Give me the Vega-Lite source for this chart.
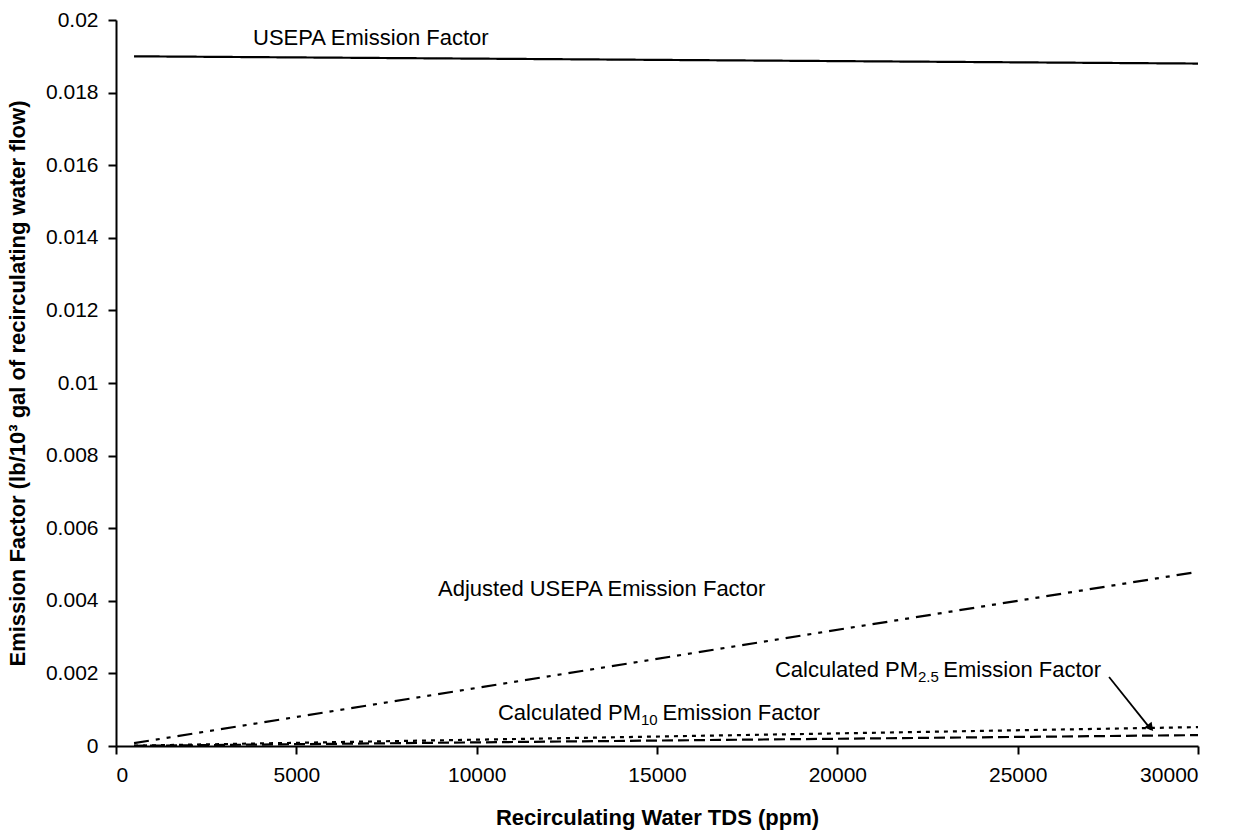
{
  "$schema": "https://vega.github.io/schema/vega-lite/v6.json",
  "width": 1082,
  "height": 726,
  "autosize": {"type": "none"},
  "padding": {"left": 116, "top": 20, "right": 40, "bottom": 86},
  "background": "white",
  "config": {
    "font": "Liberation Sans",
    "view": {"stroke": null},
    "axis": {"grid": false, "domainColor": "black", "tickColor": "black", "labelColor": "black", "titleColor": "black", "domainWidth": 2, "tickWidth": 2, "tickSize": 8, "labelFont": "Liberation Sans", "titleFont": "Liberation Sans", "labelFontSize": 21, "titleFontSize": 22, "titleFontWeight": "bold"}
  },
  "datasets": {
    "lines": [
      {"series": "USEPA", "tds": 500, "ef": 0.019},
      {"series": "USEPA", "tds": 30000, "ef": 0.0188},
      {"series": "Adjusted", "tds": 500, "ef": 0.00008},
      {"series": "Adjusted", "tds": 30000, "ef": 0.0048},
      {"series": "PM10", "tds": 500, "ef": 0.00001},
      {"series": "PM10", "tds": 30000, "ef": 0.00052},
      {"series": "PM2.5", "tds": 500, "ef": 0.000005},
      {"series": "PM2.5", "tds": 30000, "ef": 0.0003}
    ]
  },
  "layer": [
    {
      "data": {"name": "lines"},
      "mark": {"type": "line", "strokeWidth": 2.2, "color": "black"},
      "encoding": {
        "x": {"field": "tds", "type": "quantitative", "scale": {"domain": [0, 30000], "nice": false}, "axis": {"title": "Recirculating Water TDS (ppm)", "values": [0, 5000, 10000, 15000, 20000, 25000, 30000], "format": "d", "labelPadding": 10, "titlePadding": 22}},
        "y": {"field": "ef", "type": "quantitative", "scale": {"domain": [0, 0.02], "nice": false}, "axis": {"title": "Emission Factor (lb/10³ gal of recirculating water flow)", "values": [0, 0.002, 0.004, 0.006, 0.008, 0.01, 0.012, 0.014, 0.016, 0.018, 0.02], "format": "~g", "labelPadding": 10, "titlePadding": 16}},
        "detail": {"field": "series", "type": "nominal"},
        "strokeDash": {"field": "series", "type": "nominal", "scale": {"domain": ["USEPA", "Adjusted", "PM10", "PM2.5"], "range": [[1, 0], [15, 7, 4, 7, 4, 7], [4, 5], [11, 5]]}, "legend": null}
      }
    },
    {
      "data": {"values": [
        {"t": "USEPA Emission Factor", "tds": 3799, "ef": 0.0195},
        {"t": "Adjusted USEPA Emission Factor", "tds": 8928, "ef": 0.00432},
        {"t": "Emission Factor", "tds": 15150, "ef": 0.0009},
        {"t": "Emission Factor", "tds": 22940, "ef": 0.0021}
      ]},
      "mark": {"type": "text", "align": "left", "baseline": "middle", "fontSize": 22, "font": "Liberation Sans", "color": "black"},
      "encoding": {"x": {"field": "tds", "type": "quantitative"}, "y": {"field": "ef", "type": "quantitative"}, "text": {"field": "t"}}
    },
    {
      "data": {"values": [
        {"t": "Calculated PM", "tds": 14556, "ef": 0.0009},
        {"t": "Calculated PM", "tds": 22237, "ef": 0.0021}
      ]},
      "mark": {"type": "text", "align": "right", "baseline": "middle", "fontSize": 22, "font": "Liberation Sans", "color": "black"},
      "encoding": {"x": {"field": "tds", "type": "quantitative"}, "y": {"field": "ef", "type": "quantitative"}, "text": {"field": "t"}}
    },
    {
      "data": {"values": [
        {"t": "10", "tds": 14556, "ef": 0.0009},
        {"t": "2.5", "tds": 22237, "ef": 0.0021}
      ]},
      "mark": {"type": "text", "align": "left", "baseline": "middle", "fontSize": 15, "dy": 7, "font": "Liberation Sans", "color": "black"},
      "encoding": {"x": {"field": "tds", "type": "quantitative"}, "y": {"field": "ef", "type": "quantitative"}, "text": {"field": "t"}}
    },
    {
      "data": {"values": [{"tds": 27534, "ef": 0.0019, "tds2": 28700, "ef2": 0.00045}]},
      "mark": {"type": "rule", "strokeWidth": 1.8, "color": "black"},
      "encoding": {"x": {"field": "tds", "type": "quantitative"}, "y": {"field": "ef", "type": "quantitative"}, "x2": {"field": "tds2"}, "y2": {"field": "ef2"}}
    },
    {
      "data": {"values": [{"tds": 28660, "ef": 0.00053}]},
      "mark": {"type": "point", "shape": "triangle", "filled": true, "size": 90, "angle": 141, "color": "black", "opacity": 1},
      "encoding": {"x": {"field": "tds", "type": "quantitative"}, "y": {"field": "ef", "type": "quantitative"}}
    }
  ]
}
